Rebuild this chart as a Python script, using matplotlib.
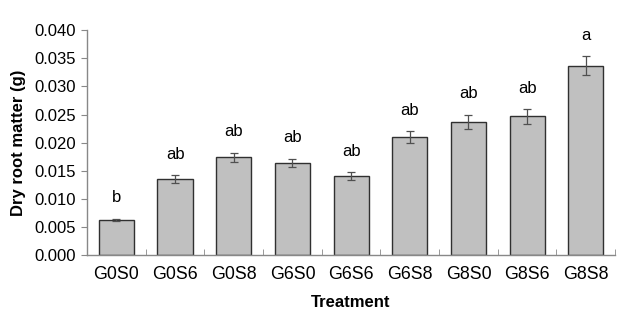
import numpy as np
import matplotlib
matplotlib.use("Agg")
from matplotlib import pyplot as plt

# data
treatments = ["G0S0", "G0S6", "G0S8", "G6S0", "G6S6", "G6S8", "G8S0", "G8S6", "G8S8"]
dry_root = [0.0063, 0.0135, 0.0174, 0.0164, 0.0141, 0.0210, 0.0237, 0.0247, 0.0337]
errors = [0.0002, 0.0007, 0.00085, 0.00075, 0.0007, 0.0011, 0.0013, 0.0013, 0.0017]
letters = ["b", "ab", "ab", "ab", "ab", "ab", "ab", "ab", "a"]
yticks = [0.000, 0.005, 0.010, 0.015, 0.020, 0.025, 0.030, 0.035, 0.040]

plt.rcParams["font.family"] = ["Liberation Sans", "DejaVu Sans"]

fig = plt.figure(figsize=(6.22, 3.14), dpi=100)
ax = fig.add_axes([0.140, 0.187, 0.849, 0.717])

x = np.arange(len(treatments))
ax.bar(x, dry_root, width=0.6, color="#c0c0c0", edgecolor="#303030", linewidth=1.0)
ax.errorbar(x, dry_root, yerr=errors, fmt="none", ecolor="#505050",
            elinewidth=0.9, capsize=3, capthick=0.9)

# significance letters
for xi, v, e, lab in zip(x, dry_root, errors, letters):
    ax.annotate(lab, (xi, v + e), xytext=(0, 15), textcoords="offset points",
                ha="center", va="center", fontsize=12)

ax.set_xlim(-0.5, len(treatments) - 0.5)
ax.set_ylim(0, 0.040)
ax.set_yticks(yticks)
ax.set_yticklabels(["%.3f" % t for t in yticks], fontsize=12)
ax.set_xticks(x)
ax.set_xticklabels(treatments, fontsize=12.8)
ax.set_xticks(np.arange(len(treatments) + 1) - 0.5, minor=True)
ax.tick_params(axis="x", which="major", length=0, pad=8)
ax.tick_params(axis="x", which="minor", direction="in", length=4, color="#888888")
ax.tick_params(axis="y", direction="out", length=4, color="#888888", pad=4)

for s in ["top", "right"]:
    ax.spines[s].set_visible(False)
for s in ["left", "bottom"]:
    ax.spines[s].set_color("#888888")
    ax.spines[s].set_linewidth(1.0)

ax.set_xlabel("Treatment", fontsize=12, fontweight="bold", labelpad=8)
ax.set_ylabel("Dry root matter (g)", fontsize=12, fontweight="bold", labelpad=6)

fig.savefig("out.png", dpi=100)
